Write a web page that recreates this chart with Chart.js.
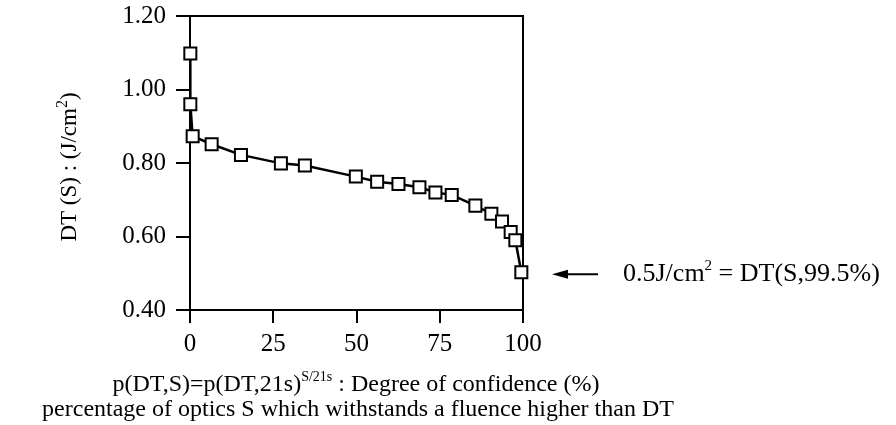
<!DOCTYPE html>
<html>
<head>
<meta charset="utf-8">
<script src="https://cdn.jsdelivr.net/npm/chart.js@4"></script>
<style>
html, body { margin: 0; padding: 0; background: #fff; }
canvas { display: block; }
</style>
</head>
<body>
<canvas id="chart" width="896" height="425"></canvas>
<script>
// values
const confidence = [0.1, 0.1, 0.8, 6.5, 15.3, 27.3, 34.5, 49.8, 56.2, 62.6, 68.9, 73.7, 78.6, 85.7, 90.5, 93.7, 96.3, 97.7, 99.5];
const threshold = [1.098, 0.960, 0.873, 0.851, 0.822, 0.799, 0.793, 0.763, 0.749, 0.743, 0.734, 0.720, 0.713, 0.684, 0.662, 0.641, 0.612, 0.590, 0.503];
const xTicks = [0, 25, 50, 75, 100];
const yTicks = [0.40, 0.60, 0.80, 1.00, 1.20];
const markedValue = 0.5;

const serif = '"Liberation Serif", "Times New Roman", serif';

// draws text pieces side by side (for superscripts)
function drawParts(ctx, parts, x, y, align) {
    let total = 0;
    parts.forEach(p => {
        ctx.font = p.size + "px " + serif;
        p.w = ctx.measureText(p.text).width;
        total += p.w;
    });
    if (align === "center") x -= total / 2;
    ctx.textAlign = "left";
    ctx.textBaseline = "alphabetic";
    parts.forEach(p => {
        ctx.font = p.size + "px " + serif;
        ctx.fillText(p.text, x, y + (p.dy || 0));
        x += p.w;
    });
}

const decorations = {
    id: "decorations",
    beforeDatasetsDraw(chart) {
        const ctx = chart.ctx;
        const a = chart.chartArea;
        // top and right side of the frame
        ctx.save();
        ctx.strokeStyle = "#000";
        ctx.lineWidth = 2;
        ctx.beginPath();
        ctx.moveTo(a.left, a.top);
        ctx.lineTo(a.right, a.top);
        ctx.lineTo(a.right, a.bottom);
        ctx.stroke();
        ctx.restore();
    },
    afterDraw(chart) {
        const ctx = chart.ctx;
        const y = chart.scales.y;
        ctx.save();
        ctx.fillStyle = "#000";
        ctx.strokeStyle = "#000";

        // y axis title
        ctx.save();
        ctx.translate(76, 167);
        ctx.rotate(-Math.PI / 2);
        drawParts(ctx, [
            { text: "DT (S) : (J/cm", size: 23 },
            { text: "2", size: 16, dy: -9 },
            { text: ")", size: 23 }
        ], 0, 0, "center");
        ctx.restore();

        // x axis title, two lines
        drawParts(ctx, [
            { text: "p(DT,S)=p(DT,21s)", size: 24 },
            { text: "S/21s", size: 14, dy: -10 },
            { text: " : Degree of confidence (%)", size: 24 }
        ], 356, 391, "center");
        drawParts(ctx, [
            { text: "percentage of optics S which withstands a fluence higher than DT", size: 24 }
        ], 358, 416, "center");

        // arrow to the last point
        const ay = y.getPixelForValue(markedValue) + 1;
        ctx.lineWidth = 2;
        ctx.beginPath();
        ctx.moveTo(564, ay);
        ctx.lineTo(598, ay);
        ctx.stroke();
        ctx.beginPath();
        ctx.moveTo(552, ay);
        ctx.lineTo(568, ay - 4.5);
        ctx.lineTo(568, ay + 4.5);
        ctx.closePath();
        ctx.fill();

        drawParts(ctx, [
            { text: "0.5J/cm", size: 26 },
            { text: "2", size: 15, dy: -11 },
            { text: " = DT(S,99.5%)", size: 26 }
        ], 623, ay + 7, "left");
        ctx.restore();
    }
};

new Chart(document.getElementById("chart").getContext("2d"), {
    type: "scatter",
    data: {
        datasets: [{
            data: confidence.map((c, i) => ({ x: c, y: threshold[i] })),
            showLine: true,
            borderColor: "#000",
            borderWidth: 2.5,
            pointStyle: "rect",
            pointRadius: 8.5,
            pointBorderWidth: 2,
            pointBackgroundColor: "#fff",
            pointBorderColor: "#000",
            clip: false
        }]
    },
    options: {
        responsive: false,
        devicePixelRatio: 1,
        animation: false,
        layout: { padding: { left: 0, right: 373, top: 16, bottom: 0 } },
        plugins: {
            legend: { display: false },
            tooltip: { enabled: false }
        },
        scales: {
            x: {
                type: "linear",
                min: 0,
                max: 100,
                afterBuildTicks: s => { s.ticks = xTicks.map(v => ({ value: v })); },
                afterFit: s => { s.height = 115; },
                grid: { drawOnChartArea: false, tickLength: 13, color: "#000", lineWidth: 2 },
                border: { color: "#000", width: 2 },
                ticks: {
                    color: "#000",
                    font: { family: serif, size: 25 },
                    padding: 6,
                    maxRotation: 0,
                    callback: v => v
                }
            },
            y: {
                min: 0.4,
                max: 1.2,
                afterBuildTicks: s => { s.ticks = yTicks.map(v => ({ value: v })); },
                afterFit: s => {
                    s.width = 190;
                    s.paddingTop = 0;
                    s.paddingBottom = 0;
                },
                grid: { drawOnChartArea: false, tickLength: 14, color: "#000", lineWidth: 2 },
                border: { color: "#000", width: 2 },
                ticks: {
                    color: "#000",
                    font: { family: serif, size: 25 },
                    padding: 10,
                    callback: v => v.toFixed(2)
                }
            }
        }
    },
    plugins: [decorations]
});
</script>
</body>
</html>
